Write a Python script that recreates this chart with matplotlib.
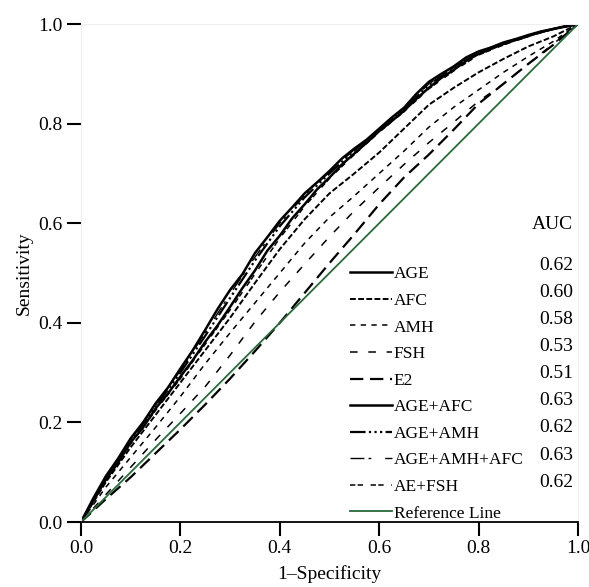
import numpy as np
import matplotlib.pyplot as plt

# 1-Specificity grids
fpr = [0.0, 0.05, 0.10, 0.15, 0.20, 0.25, 0.30, 0.35, 0.40, 0.45, 0.50,
       0.55, 0.60, 0.65, 0.70, 0.75, 0.80, 0.85, 0.90, 0.95, 1.0]
fpr_fine = [0.0, 0.025, 0.05, 0.075, 0.1, 0.125, 0.15, 0.175, 0.2, 0.225, 0.25,
            0.275, 0.3, 0.325, 0.35, 0.375, 0.4, 0.425, 0.45, 0.475, 0.5,
            0.525, 0.55, 0.575, 0.6, 0.625, 0.65, 0.675, 0.7, 0.725, 0.75,
            0.775, 0.8, 0.825, 0.85, 0.875, 0.9, 0.925, 0.95, 0.975, 1.0]

# sensitivity for each model
tpr_age = [0.0, 0.044, 0.085, 0.12, 0.16, 0.19, 0.228, 0.258, 0.292, 0.325, 0.362,
           0.395, 0.432, 0.47, 0.505, 0.545, 0.575, 0.61, 0.638, 0.668, 0.692,
           0.718, 0.74, 0.762, 0.785, 0.805, 0.826, 0.85, 0.872, 0.892, 0.908,
           0.926, 0.94, 0.95, 0.96, 0.968, 0.976, 0.984, 0.99, 0.995, 1.0]
tpr_afc = [0.0, 0.08, 0.15, 0.215, 0.28, 0.345, 0.41, 0.48, 0.548, 0.608, 0.66,
           0.7, 0.742, 0.79, 0.838, 0.872, 0.903, 0.93, 0.955, 0.975, 1.0]
tpr_amh = [0.0, 0.07, 0.13, 0.19, 0.252, 0.318, 0.38, 0.44, 0.5, 0.56, 0.612,
           0.655, 0.7, 0.745, 0.793, 0.833, 0.868, 0.903, 0.935, 0.965, 1.0]
tpr_fsh = [0.0, 0.055, 0.11, 0.165, 0.218, 0.272, 0.335, 0.402, 0.462, 0.518, 0.573,
           0.625, 0.672, 0.718, 0.762, 0.803, 0.845, 0.88, 0.92, 0.96, 1.0]
tpr_e2 = [0.0, 0.046, 0.09, 0.138, 0.186, 0.236, 0.288, 0.343, 0.4, 0.46, 0.52,
          0.578, 0.638, 0.692, 0.738, 0.788, 0.84, 0.88, 0.92, 0.958, 1.0]
tpr_age_afc = [0.0, 0.048, 0.092, 0.128, 0.168, 0.2, 0.238, 0.27, 0.308, 0.345, 0.386,
               0.428, 0.466, 0.498, 0.54, 0.572, 0.605, 0.632, 0.66, 0.682, 0.705,
               0.73, 0.75, 0.768, 0.79, 0.812, 0.832, 0.86, 0.884, 0.9, 0.915,
               0.933, 0.945, 0.953, 0.963, 0.97, 0.978, 0.985, 0.99, 0.996, 1.0]
tpr_age_amh = [0.0, 0.088, 0.163, 0.232, 0.3, 0.374, 0.45, 0.525, 0.594, 0.652, 0.7,
               0.746, 0.788, 0.83, 0.878, 0.912, 0.943, 0.962, 0.977, 0.99, 1.0]
tpr_age_amh_afc = [0.0, 0.09, 0.166, 0.235, 0.304, 0.38, 0.458, 0.532, 0.6, 0.656, 0.703,
                   0.748, 0.789, 0.831, 0.88, 0.913, 0.944, 0.962, 0.977, 0.99, 1.0]
tpr_ae_fsh = [0.0, 0.083, 0.157, 0.224, 0.288, 0.357, 0.426, 0.498, 0.57, 0.634, 0.69,
              0.738, 0.783, 0.824, 0.87, 0.906, 0.938, 0.958, 0.975, 0.99, 1.0]

labels = ['AGE', 'AFC', 'AMH', 'FSH', 'E2', 'AGE+AFC', 'AGE+AMH',
          'AGE+AMH+AFC', 'AE+FSH']
auc = ['0.62', '0.60', '0.58', '0.53', '0.51', '0.63', '0.62', '0.63', '0.62']

curves = [(fpr_fine, tpr_age), (fpr, tpr_afc), (fpr, tpr_amh), (fpr, tpr_fsh),
          (fpr, tpr_e2), (fpr_fine, tpr_age_afc), (fpr, tpr_age_amh),
          (fpr, tpr_age_amh_afc), (fpr, tpr_ae_fsh)]
dash_styles = [None, (3, 1.2), (3.5, 3.5), (5, 7), (6, 3), None,
               (7, 1.5, 1, 1.5, 1, 1.5, 1, 1.5), (10, 3, 2, 10), (3.5, 1.5, 3.5, 5)]
widths = [1.8, 1.4, 1.1, 1.1, 1.6, 1.8, 1.6, 1.0, 1.1]

plt.rcParams['font.family'] = ['Liberation Serif', 'DejaVu Serif']

fig = plt.figure(figsize=(5.89, 5.87), dpi=100)
ax = fig.add_axes([0.1375, 0.1107, 0.8438, 0.8483])

for (x, y), lab, ds, lw in zip(curves, labels, dash_styles, widths):
    line, = ax.plot(x, y, color='black', lw=lw, label=lab)
    if ds is not None:
        line.set_dashes(ds)

ax.plot([0, 1], [0, 1], color='#2a6b3c', lw=1.3, label='Reference Line')

ax.set_xlim(0, 1)
ax.set_ylim(0, 1)
ticks = [0.0, 0.2, 0.4, 0.6, 0.8, 1.0]
ax.set_xticks(ticks)
ax.set_yticks(ticks)
ax.set_xticklabels(['%.1f' % t for t in ticks], fontsize=14)
ax.set_yticklabels(['%.1f' % t for t in ticks], fontsize=14)
ax.tick_params(axis='both', direction='out', length=10, width=1.5, color='black', pad=3)

for side in ['left', 'top', 'right']:
    ax.spines[side].set_color('#eeeeee')
ax.spines['bottom'].set_color('black')
ax.spines['bottom'].set_linewidth(1.3)

ax.set_xlabel('1\u2013Specificity', fontsize=14, labelpad=6)
ax.set_ylabel('Sensitivity', fontsize=14, labelpad=4)

leg = ax.legend(loc='lower left', bbox_to_anchor=(0.535, -0.006), frameon=False,
                fontsize=12.5, handlelength=2.4, handletextpad=0.1,
                labelspacing=0.6, borderaxespad=0.0, borderpad=0.2)

ax.text(0.99, 0.598, 'AUC', fontsize=14, ha='right', va='center')
for i, a in enumerate(auc):
    ax.text(0.99, 0.516 - i * 0.0545, a, fontsize=14, ha='right', va='center')

fig.savefig('out.png', dpi=100)
